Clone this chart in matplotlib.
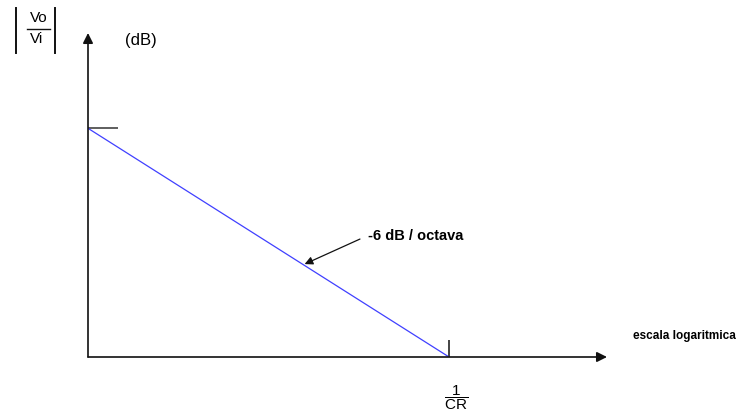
import matplotlib.pyplot as plt
from matplotlib.ticker import NullLocator
from matplotlib.transforms import ScaledTranslation

plt.rcParams['font.family'] = ['Liberation Sans', 'DejaVu Sans']
plt.rcParams['mathtext.fontset'] = 'custom'
plt.rcParams['mathtext.rm'] = 'Liberation Sans'
plt.rcParams['mathtext.it'] = 'Liberation Sans'

# respuesta en frecuencia (asintota), frecuencia normalizada a 1/CR
freq = [1 / 256, 1.0]
gain_db = [48, 0]
corner_freq = [1.0]
corner_labels = [r'$\mathrm{\dfrac{1}{CR}}$']

fig = plt.figure(figsize=(7.4, 4.17), dpi=100)
ax = fig.add_axes([88 / 740, 60 / 417, 519 / 740, 324 / 417])
ax.set_xscale('log', base=2)
ax.set_xlim(1 / 256, 2 ** 3.5)
ax.set_ylim(0, 68)

for s in ax.spines.values():
    s.set_visible(False)

# ejes con flecha
axis_arrow = dict(arrowstyle='-|>', color='#111111', lw=1.2,
                  mutation_scale=15, shrinkA=0, shrinkB=0)
ax.annotate('', xy=(0, 1), xycoords='axes fraction',
            xytext=(0, 0), textcoords='axes fraction', arrowprops=axis_arrow)
ax.annotate('', xy=(1, 0), xycoords='axes fraction',
            xytext=(0, 0), textcoords='axes fraction', arrowprops=axis_arrow)

# recta de -6 dB/octava
ax.plot(freq, gain_db, color='#4040ff', lw=0.9)

# marcas en el eje
ax.xaxis.set_minor_locator(NullLocator())
ax.yaxis.set_minor_locator(NullLocator())
ax.set_yticks([gain_db[0]])
ax.set_yticklabels([])
ax.tick_params(axis='y', direction='in', length=21.5, width=1.1, color='#333333')
ax.set_xticks(corner_freq)
ax.set_xticklabels(corner_labels, fontsize=11)
ax.tick_params(axis='x', direction='in', length=12, width=1.1, color='#111111', pad=19)
for lbl in ax.get_xticklabels():
    lbl.set_transform(lbl.get_transform() + ScaledTranslation(0.07, 0, fig.dpi_scale_trans))

ax.annotate('-6 dB / octava', xy=(2 ** -3.2, 19.5), xycoords='data',
            xytext=(2 ** -1.8, 25.5), textcoords='data',
            fontsize=10.5, fontweight='bold', ha='left', va='center',
            arrowprops=dict(arrowstyle='-|>', color='#111111', lw=0.9,
                            mutation_scale=12, shrinkA=4, shrinkB=0,
                            relpos=(0, 0.5)))

# rotulo |Vo/Vi| del eje vertical, en pixeles de la figura
lab = fig.add_axes([0, 0, 1, 1], facecolor='none')
lab.set_xlim(0, 740)
lab.set_ylim(417, 0)
lab.axis('off')
lab.plot([16, 16], [8, 53], color='#111111', lw=1.4)
lab.plot([55, 55], [8, 53], color='#111111', lw=1.4)
lab.plot([27, 50], [28.5, 28.5], color='#111111', lw=1.0)
lab.text(38.5, 18, 'Vo', fontsize=11, ha='center', va='center')
lab.text(37, 38.5, 'Vi', fontsize=11, ha='center', va='center')

fig.text(125 / 740, 1 - 40 / 417, '(dB)', fontsize=12,
         ha='left', va='center')
fig.text(633 / 740, 1 - 336 / 417, 'escala logaritmica', fontsize=8.5,
         fontweight='bold', ha='left', va='center')

fig.savefig('out.png', dpi=100)
